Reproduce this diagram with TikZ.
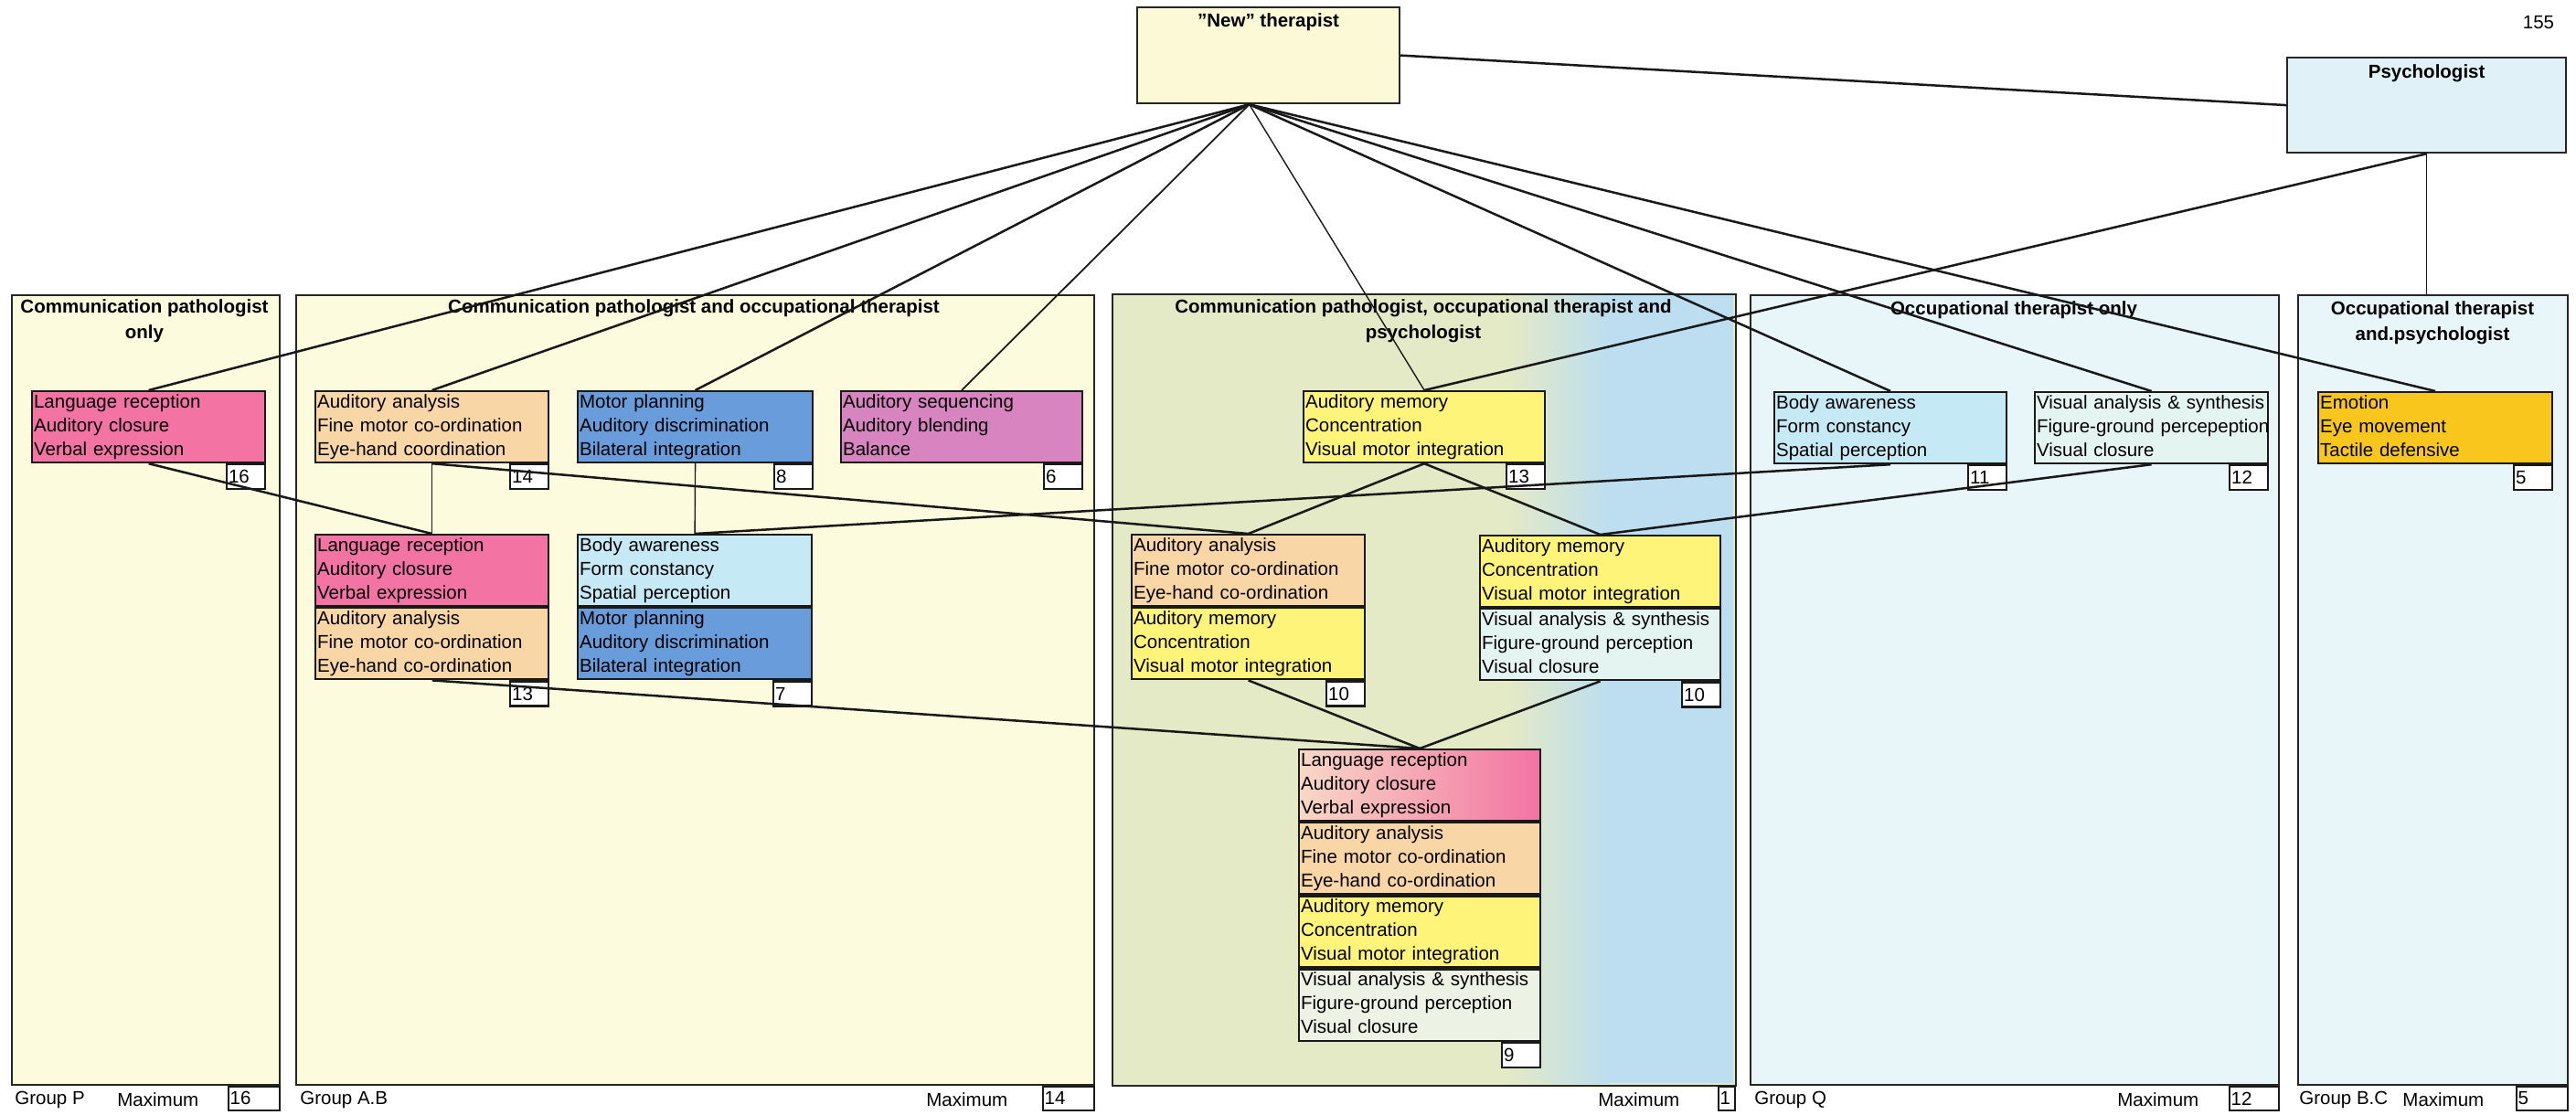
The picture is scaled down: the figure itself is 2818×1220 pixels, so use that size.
\documentclass[tikz,border=0pt]{standalone}
\usepackage{fontspec}
\setmainfont{Liberation Sans}
\usetikzlibrary{calc}

% panel and box colours
\definecolor{creamfill}{RGB}{253,251,222}
\definecolor{iceblue}{RGB}{233,246,249}
\definecolor{cpoL}{RGB}{228,233,198}
\definecolor{cpoR}{RGB}{188,222,240}
\definecolor{newfill}{RGB}{252,250,214}
\definecolor{psyfill}{RGB}{224,242,248}
\definecolor{rose}{RGB}{243,115,162}
\definecolor{roseL}{RGB}{248,216,198}
\definecolor{peach}{RGB}{249,214,166}
\definecolor{cornflower}{RGB}{104,156,218}
\definecolor{mauve}{RGB}{216,132,192}
\definecolor{lemon}{RGB}{255,244,122}
\definecolor{skyfill}{RGB}{198,233,246}
\definecolor{mintwhite}{RGB}{228,245,241}
\definecolor{gold}{RGB}{249,198,30}
\definecolor{paleend}{RGB}{236,243,228}

\newcommand\cellfont{\fontsize{10.25}{13}\selectfont}
\newcommand\titlefont{\fontsize{10.25}{14}\selectfont\bfseries}

\tikzset{
  panel/.style={draw=black!85, line width=0.9pt, anchor=north west,
    minimum width=#1, minimum height=432pt, inner sep=0pt},
  role/.style={draw=black!85, line width=1.1pt, anchor=north west, inner sep=0pt},
  cell/.style={draw=black!90, line width=1.1pt, anchor=north west,
    inner xsep=1pt, inner ysep=0pt, text width=#1, align=left,
    minimum height=39pt, font=\cellfont,
    execute at begin node=\strut, execute at end node=\strut},
  numbox/.style={draw=black!90, line width=1.1pt, fill=white, anchor=north east,
    inner xsep=1pt, inner ysep=0pt, text width=19pt, align=left,
    minimum height=13.5pt, font=\cellfont},
  bnum/.style={draw=black!90, line width=1.1pt, fill=white, anchor=north east,
    inner xsep=1pt, inner ysep=0pt, text width=#1, align=left,
    minimum height=13pt, font=\cellfont},
  ptitle/.style={font=\titlefont, align=center, anchor=north, inner sep=0pt},
  lbl/.style={font=\cellfont, inner sep=0pt},
  link/.style={draw=black!90, line width=1.25pt},
  thinlink/.style={draw=black!90, line width=0.7pt},
}

\begin{document}
\begin{tikzpicture}[x=0.5pt, y=-0.5pt]
\useasboundingbox (0,0) rectangle (2818,1220);
\fill[white] (0,0) rectangle (2818,1220);

% ---- group panels ----
\node[panel=146.5pt, fill=creamfill] (panP) at (12,322) {};
\node[panel=436.5pt, fill=creamfill] (panAB) at (323,322) {};
\node[panel=340pt, fill=cpoL, draw=none] (panC) at (1217,322) {};
\fill[left color=cpoL, right color=cpoR] (1650,323) rectangle (1760,1185);
\fill[cpoR] (1760,323) rectangle (1896,1185);
\draw[black!85, line width=0.9pt] (panC.north west) rectangle (panC.south east);
\node[panel=289pt, fill=iceblue] (panQ) at (1914,322) {};
\node[panel=147.5pt, fill=iceblue] (panBC) at (2513,322) {};

\node[ptitle] (tP) at (158,327) {Communication pathologist\\only};
\node[ptitle] (tAB) at (759,327) {Communication pathologist and occupational therapist};
\node[ptitle] (tC) at (1557,327) {Communication pathologist, occupational therapist and\\psychologist};
\node[ptitle] (tQ) at (2203,329) {Occupational therapist only};
\node[ptitle] (tBC) at (2661,329) {Occupational therapist\\and.psychologist};

% ---- professionals ----
\node[role, fill=newfill, minimum width=143.5pt, minimum height=52.5pt] (new) at (1243,7) {};
\node[ptitle] (newT) at ([yshift=-3.5pt]new.north) {"New" therapist};
\node[role, fill=psyfill, minimum width=152.5pt, minimum height=52pt] (psy) at (2501,62) {};
\node[ptitle] (psyT) at ([yshift=-4pt]psy.north) {Psychologist};
\node[lbl] (page) at (2777,25) {155};

% ---- first row of skill boxes ----
\node[cell=125.5pt, fill=rose] (P1) at (34,427) {Language reception\\Auditory closure\\Verbal expression};
\node[numbox] (P1n) at (P1.south east) {16};

\node[cell=125.5pt, fill=peach] (AB1) at (344,427) {Auditory analysis\\Fine motor co-ordination\\Eye-hand coordination};
\node[numbox] (AB1n) at (AB1.south east) {14};

\node[cell=126.5pt, fill=cornflower] (AB2) at (631,427) {Motor planning\\Auditory discrimination\\Bilateral integration};
\node[numbox] (AB2n) at (AB2.south east) {8};

\node[cell=130pt, fill=mauve] (SEQ) at (919,427) {Auditory sequencing\\Auditory blending\\Balance};
\node[numbox] (SEQn) at (SEQ.south east) {6};

\node[cell=130pt, fill=lemon] (T1) at (1425,427) {Auditory memory\\Concentration\\Visual motor integration};
\node[numbox] (T1n) at (T1.south east) {13};

\node[cell=125pt, fill=skyfill] (Q1) at (1940,428) {Body awareness\\Form constancy\\Spatial perception};
\node[numbox] (Q1n) at (Q1.south east) {11};

\node[cell=125.5pt, fill=mintwhite] (Q2) at (2225,428) {Visual analysis \& synthesis\\\mbox{Figure-ground percepeption}\\Visual closure};
\node[numbox] (Q2n) at (Q2.south east) {12};

\node[cell=126pt, fill=gold] (BC1) at (2535,428) {Emotion\\Eye movement\\Tactile defensive};
\node[numbox] (BC1n) at (BC1.south east) {5};

% ---- second row: combined boxes ----
\node[cell=125.5pt, fill=rose] (AB3a) at (344,584) {Language reception\\Auditory closure\\Verbal expression};
\node[cell=125.5pt, fill=peach] (AB3b) at (AB3a.south west) {Auditory analysis\\Fine motor co-ordination\\Eye-hand co-ordination};
\node[numbox] (AB3n) at (AB3b.south east) {13};

\node[cell=126pt, fill=skyfill] (AB4a) at (631,584) {Body awareness\\Form constancy\\Spatial perception};
\node[cell=126pt, fill=cornflower] (AB4b) at (AB4a.south west) {Motor planning\\Auditory discrimination\\Bilateral integration};
\node[numbox] (AB4n) at (AB4b.south east) {7};

\node[cell=125.5pt, fill=peach] (C1a) at (1237,584) {Auditory analysis\\Fine motor co-ordination\\Eye-hand co-ordination};
\node[cell=125.5pt, fill=lemon] (C1b) at (C1a.south west) {Auditory memory\\Concentration\\Visual motor integration};
\node[numbox] (C1n) at (C1b.south east) {10};

\node[cell=129.5pt, fill=lemon] (C2a) at (1618,585) {Auditory memory\\Concentration\\Visual motor integration};
\node[cell=129.5pt, fill=mintwhite] (C2b) at (C2a.south west) {Visual analysis \& synthesis\\Figure-ground perception\\Visual closure};
\node[numbox] (C2n) at (C2b.south east) {10};

% ---- third row: all four combined ----
\node[cell=130pt, left color=roseL, right color=rose] (B9a) at (1420,819) {Language reception\\Auditory closure\\Verbal expression};
\node[cell=130pt, fill=peach] (B9b) at (B9a.south west) {Auditory analysis\\Fine motor co-ordination\\Eye-hand co-ordination};
\node[cell=130pt, fill=lemon] (B9c) at (B9b.south west) {Auditory memory\\Concentration\\Visual motor integration};
\node[cell=130pt, fill=paleend] (B9d) at (B9c.south west) {Visual analysis \& synthesis\\Figure-ground perception\\Visual closure};
\node[numbox] (B9n) at (B9d.south east) {9};

% ---- group footers ----
\node[lbl, anchor=west] (gP) at (16,1203) {Group P};
\node[lbl, anchor=west] (mP) at (128,1203) {Maximum};
\node[bnum=26pt] (nP) at (panP.south east) {16};

\node[lbl, anchor=west] (gAB) at (328,1203) {Group A.B};
\node[lbl, anchor=west] (mAB) at (1013,1203) {Maximum};
\node[bnum=26pt] (nAB) at (panAB.south east) {14};

\node[lbl, anchor=west] (mC) at (1748,1203) {Maximum};
\node[bnum=7pt] (nC) at (panC.south east) {1};

\node[lbl, anchor=west] (gQ) at (1919,1203) {Group Q};
\node[lbl, anchor=west] (mQ) at (2316,1203) {Maximum};
\node[bnum=25pt] (nQ) at (panQ.south east) {12};

\node[lbl, anchor=west] (gBC) at (2515,1203) {Group B.C};
\node[lbl, anchor=west] (mBC) at (2628,1203) {Maximum};
\node[bnum=26pt] (nBC) at (panBC.south east) {5};

% ---- connectors ----
\coordinate (hub) at ($(new.south)+(-21,0)$);
\draw[link] (new.east) -- (psy.west);
\draw[link] (hub) -- (P1.north);
\draw[link] (hub) -- (AB1.north);
\draw[link] (hub) -- (AB2.north);
\draw[thinlink, line width=0.9pt] (hub) -- (SEQ.north);
\draw[thinlink] (hub) -- (T1.north);
\draw[link] (hub) -- (Q1.north);
\draw[link] (hub) -- (Q2.north);
\draw[link] (hub) -- (BC1.north);

\draw[link] (psy.south) -- (T1.north);
\draw[thinlink] (psy.south) -- (psy.south |- panBC.north);

\draw[link] (P1.south) -- (AB3a.north);
\draw[thinlink] (AB1.south) -- (AB3a.north);
\draw[thinlink] (AB2.south) -- (AB4a.north);
\draw[link] (AB1.south) -- (C1a.north);
\draw[link] (Q1.south) -- (AB4a.north);
\draw[link] (T1.south) -- (C1a.north);
\draw[link] (T1.south) -- (C2a.north);
\draw[link] (Q2.south) -- (C2a.north);

\draw[link] (AB3b.south) -- (B9a.north);
\draw[link] (C1b.south) -- (B9a.north);
\draw[link] (C2b.south) -- (B9a.north);
\end{tikzpicture}
\end{document}
